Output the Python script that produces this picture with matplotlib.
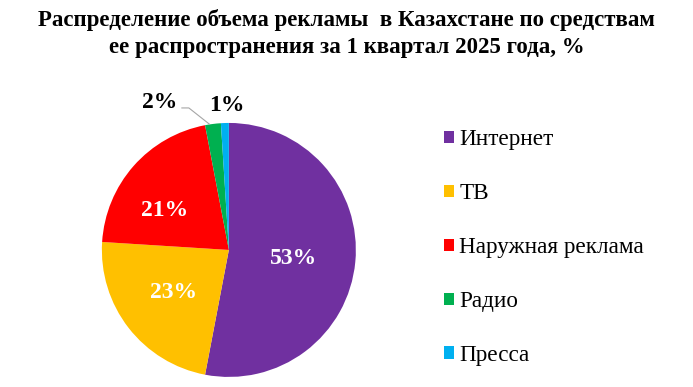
import numpy as np
import matplotlib
matplotlib.use("Agg")
import matplotlib.pyplot as plt
from matplotlib.patches import Patch

plt.rcParams['font.family'] = ['Liberation Serif', 'DejaVu Serif']

categories = ["Интернет", "ТВ", "Наружная реклама", "Радио", "Пресса"]
shares = [53, 23, 21, 2, 1]
colors = ["#7030A0", "#FFC000", "#FF0000", "#00B050", "#00B0F0"]
title = "Распределение объема рекламы  в Казахстане по средствам\nее распространения за 1 квартал 2025 года, %"

fig = plt.figure(figsize=(6.93, 3.87), dpi=100)
ax = fig.add_axes([0.147, 0.026, 0.3665, 0.6563])

wedges, _ = ax.pie(shares, colors=colors, startangle=90, counterclock=False,
                   wedgeprops=dict(linewidth=0))
ax.set_xlim(-1, 1)
ax.set_ylim(-1, 1)
ax.set_aspect('equal')

# label placement: (distance, angle offset in degrees, colour)
label_pos = [(0.51, -2, "white"), (0.55, 0, "white"), (0.59, 10, "white"),
             (1.28, 18, "black"), (1.14, -1, "black")]
for w, v, (d, off, c) in zip(wedges, shares, label_pos):
    mid = np.deg2rad((w.theta1 + w.theta2) / 2 + off)
    x, y = d * np.cos(mid), d * np.sin(mid)
    ax.text(x, y, f"{v}%", ha='center', va='center', fontsize=17,
            fontweight='bold', color=c)
    if d > 1.2:
        mid0 = np.deg2rad((w.theta1 + w.theta2) / 2)
        ex, ey = np.cos(mid0) - 0.03, np.sin(mid0)
        ax.plot([x + 0.175, x + 0.23, ex], [y - 0.04, y - 0.04, ey],
                color='#A6A6A6', lw=0.8, clip_on=False)

fig.text(0.5, 0.978, title, ha='center', va='top', fontsize=16.5,
         fontweight='bold', linespacing=1.38)

handles = [Patch(facecolor=c, edgecolor='none') for c in colors]
fig.legend(handles, categories, loc='upper left', bbox_to_anchor=(0.61, 0.72),
           frameon=False, fontsize=16.7, handlelength=0.45, handleheight=0.45,
           handletextpad=0.22, labelspacing=1.42)

fig.savefig("out.png", dpi=100)
